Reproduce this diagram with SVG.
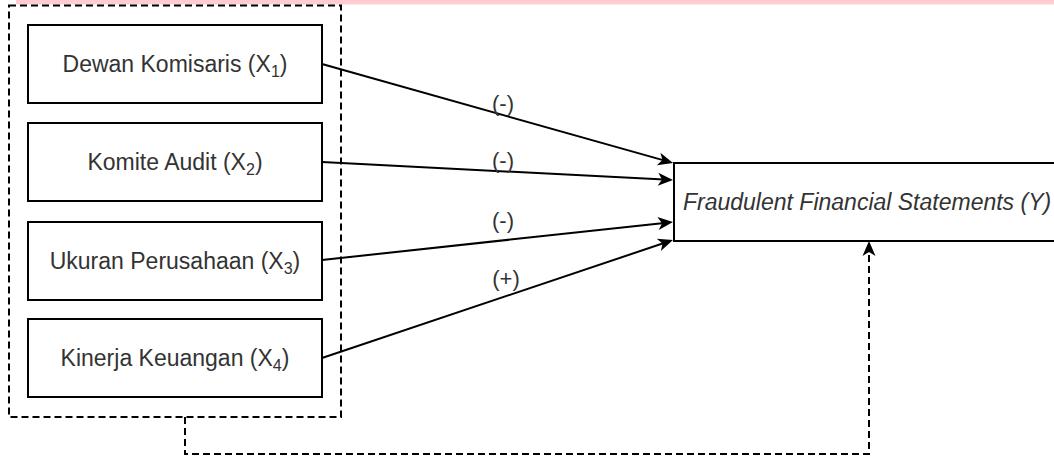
<svg xmlns="http://www.w3.org/2000/svg" width="1054" height="458" viewBox="0 0 1054 458">
<style>
.box{fill:#fff;stroke:#000;stroke-width:2}
.dash{fill:none;stroke:#000;stroke-width:2;stroke-dasharray:7 4}
.edge{fill:none;stroke:#000;stroke-width:2}
.t{font-family:"Liberation Sans",Arial,sans-serif;font-size:23px;fill:#333}
.lbl{font-family:"Liberation Sans",Arial,sans-serif;font-size:22px;fill:#333;text-anchor:middle}
.sub{font-size:16px}
</style>
<defs>
<marker id="arr" markerUnits="userSpaceOnUse" markerWidth="17" markerHeight="14" viewBox="0 0 17 14" refX="12" refY="7" orient="auto">
<path d="M1,0.5 L16,7 L1,13.5 L5,7 Z" fill="#000" stroke="none"/>
</marker>
</defs>
<rect width="1054" height="458" fill="#fff"/>
<rect x="16" y="0" width="1038" height="4.5" fill="#FFCDD2"/>
<g id="group">
<rect x="9" y="5.5" width="332" height="411.5" class="dash"/>
</g>
<g id="x1">
<rect x="28" y="25" width="294" height="78" class="box"/>
<text x="175" y="72" class="t" text-anchor="middle">Dewan Komisaris (X<tspan class="sub" dy="5">1</tspan><tspan dy="-5">)</tspan></text>
</g>
<g id="x2">
<rect x="28" y="123" width="294" height="78" class="box"/>
<text x="175" y="170" class="t" text-anchor="middle">Komite Audit (X<tspan class="sub" dy="5">2</tspan><tspan dy="-5">)</tspan></text>
</g>
<g id="x3">
<rect x="28" y="222" width="294" height="78" class="box"/>
<text x="175" y="269" class="t" text-anchor="middle">Ukuran Perusahaan (X<tspan class="sub" dy="5">3</tspan><tspan dy="-5">)</tspan></text>
</g>
<g id="x4">
<rect x="28" y="319" width="294" height="78" class="box"/>
<text x="175" y="366" class="t" text-anchor="middle">Kinerja Keuangan (X<tspan class="sub" dy="5">4</tspan><tspan dy="-5">)</tspan></text>
</g>
<g id="y">
<rect x="674" y="163" width="400" height="78" class="box"/>
<text x="683" y="210" class="t" font-size="23.7" font-style="italic">Fraudulent Financial Statements (Y)</text>
</g>
<g id="connectors">
<line x1="322" y1="64" x2="669.2" y2="161.9" class="edge" marker-end="url(#arr)"/>
<line x1="322" y1="162" x2="669" y2="179.8" class="edge" marker-end="url(#arr)"/>
<line x1="322" y1="260" x2="669" y2="222.4" class="edge" marker-end="url(#arr)"/>
<line x1="322" y1="358" x2="669.2" y2="241.3" class="edge" marker-end="url(#arr)"/>
<path d="M185,417 V454 H869 V245" class="dash" marker-end="url(#arr)"/>
<text x="503" y="111" class="lbl">(-)</text>
<text x="503" y="168" class="lbl">(-)</text>
<text x="503" y="228" class="lbl">(-)</text>
<text x="506" y="286" class="lbl">(+)</text>
</g>
</svg>
